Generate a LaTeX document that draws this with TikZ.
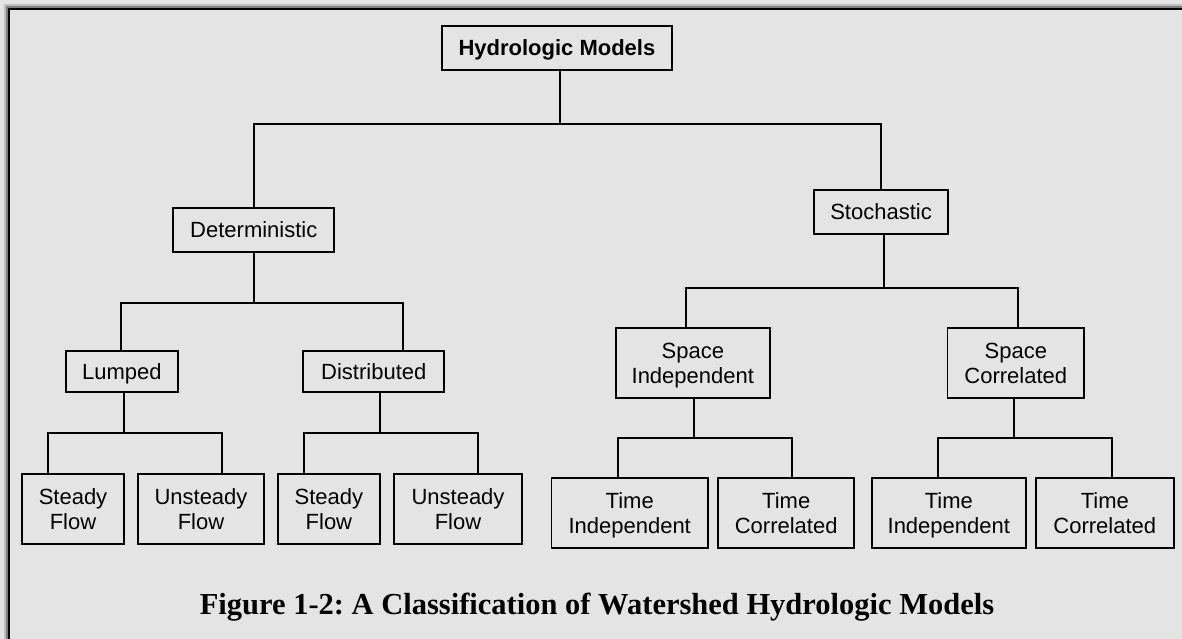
\documentclass[tikz,border=0pt]{standalone}
\usepackage{fontspec}
\setmainfont{Liberation Serif}
\newfontfamily\arial{Liberation Sans}
\frenchspacing
\definecolor{paper}{HTML}{E4E4E4}
\definecolor{rimlight}{HTML}{BEBEBE}
\definecolor{rimdark}{HTML}{7F7F7F}
% uniform line strut: caps height 15.75pt plus 4pt above, 4pt below the baseline
\newcommand\lnstrut{\rule[-4pt]{0pt}{23.75pt}}
\tikzset{
  box/.style={draw=black, line width=1.8pt, fill=paper, rectangle, inner sep=0pt,
    align=center, font=\arial\fontsize{22}{25}\selectfont},
  link/.style={draw=black, line width=1.8pt, line cap=rect},
}
\begin{document}
\begin{tikzpicture}[x=1pt, y=-1pt]
\useasboundingbox (0,0) rectangle (1182,638);
% page and bevelled frame (top and left edges)
\fill[paper] (-5,-5) rectangle (1200,650);
\fill[rimlight] (4,4) rectangle (1200,650);
\fill[rimdark] (5.7,5.7) rectangle (1200,650);
\fill[black] (7.6,7.6) rectangle (1200,650);
\fill[paper] (10,10) rectangle (1200,650);

% boxes
\node[box, minimum width=230pt, minimum height=44pt, font=\arial\bfseries\fontsize{22}{25}\selectfont]
  (top) at (556.9,47.9) {\lnstrut Hydrologic Models};
\node[box, minimum width=161pt, minimum height=44.6pt] (det) at (253.8,230) {\lnstrut Deterministic};
\node[box, minimum width=134.6pt, minimum height=44.6pt] (sto) at (881,212) {\lnstrut Stochastic};
\node[box, minimum width=112.3pt, minimum height=41.6pt] (lum) at (121.9,371.5) {\lnstrut Lumped};
\node[box, minimum width=141pt, minimum height=41.6pt] (dis) at (373.8,371.5) {\lnstrut Distributed};
\node[box, minimum width=154.3pt, minimum height=70.6pt] (sind) at (692.8,363) {\lnstrut Space\\\lnstrut Independent};
\node[box, minimum width=136.5pt, minimum height=70.6pt] (scor) at (1015.8,363) {\lnstrut Space\\\lnstrut Correlated};
\node[box, minimum width=102.6pt, minimum height=70pt] (sfa) at (73,509) {\lnstrut Steady\\\lnstrut Flow};
\node[box, minimum width=126.6pt, minimum height=70pt] (ufa) at (201,509) {\lnstrut Unsteady\\\lnstrut Flow};
\node[box, minimum width=102.3pt, minimum height=70pt] (sfb) at (328.9,509) {\lnstrut Steady\\\lnstrut Flow};
\node[box, minimum width=128.6pt, minimum height=70pt] (ufb) at (458,509) {\lnstrut Unsteady\\\lnstrut Flow};
\node[box, minimum width=156.3pt, minimum height=70.6pt] (tia) at (629.7,513) {\lnstrut Time\\\lnstrut Independent};
\node[box, minimum width=136.3pt, minimum height=70.6pt] (tca) at (786.2,513) {\lnstrut Time\\\lnstrut Correlated};
\node[box, minimum width=154.4pt, minimum height=70.6pt] (tib) at (948.8,513) {\lnstrut Time\\\lnstrut Independent};
\node[box, minimum width=138.4pt, minimum height=70.6pt] (tcb) at (1104.8,513) {\lnstrut Time\\\lnstrut Correlated};

% bus junctions
\coordinate (j0) at (560,123.7);
\coordinate (j1) at (254,303);   \coordinate (j1l) at (121,303);   \coordinate (j1r) at (403,303);
\coordinate (j2) at (884,288);   \coordinate (j2l) at (685.7,288); \coordinate (j2r) at (1018,288);
\coordinate (j3) at (124,433.3); \coordinate (j3l) at (47.7,433.3); \coordinate (j3r) at (221.7,433.3);
\coordinate (j4) at (380,433.3); \coordinate (j4l) at (303.7,433.3); \coordinate (j4r) at (478,433.3);
\coordinate (j5) at (693.9,438); \coordinate (j5l) at (617.6,438); \coordinate (j5r) at (792.2,438);
\coordinate (j6) at (1013.9,438); \coordinate (j6l) at (938,438); \coordinate (j6r) at (1112.2,438);

% connectors
\draw[link] (top.south -| j0) -- (j0);
\draw[link] (det.north) |- (j0) -| (sto.north);

\draw[link] (det.south -| j1) -- (j1);
\draw[link] (lum.north -| j1l) -- (j1l) -- (j1r) -- (dis.north -| j1r);

\draw[link] (sto.south -| j2) -- (j2);
\draw[link] (sind.north -| j2l) -- (j2l) -- (j2r) -- (scor.north -| j2r);

\draw[link] (lum.south -| j3) -- (j3);
\draw[link] (sfa.north -| j3l) -- (j3l) -- (j3r) -- (ufa.north -| j3r);

\draw[link] (dis.south -| j4) -- (j4);
\draw[link] (sfb.north -| j4l) -- (j4l) -- (j4r) -- (ufb.north -| j4r);

\draw[link] (sind.south -| j5) -- (j5);
\draw[link] (tia.north -| j5l) -- (j5l) -- (j5r) -- (tca.north -| j5r);

\draw[link] (scor.south -| j6) -- (j6);
\draw[link] (tib.north -| j6l) -- (j6l) -- (j6r) -- (tcb.north -| j6r);

% caption
\node[anchor=base, inner sep=0pt, font=\bfseries\fontsize{30.5}{34}\selectfont]
  (cap) at (597,614.5) {Figure 1-2: A Classification of Watershed Hydrologic Models};
\end{tikzpicture}
\end{document}
